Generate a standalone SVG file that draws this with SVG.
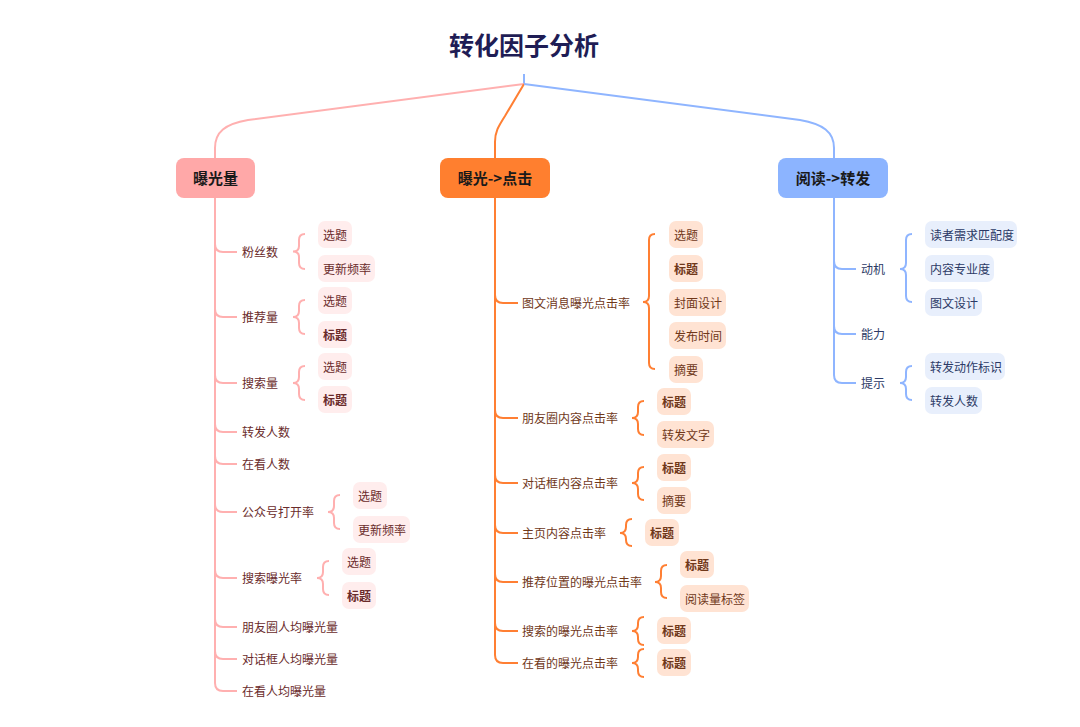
<svg xmlns="http://www.w3.org/2000/svg" width="1080" height="727" viewBox="0 0 1080 727">
<style>
text{font-family:"Noto Sans CJK SC","Noto Sans",sans-serif;dominant-baseline:central}
.title{font-size:25px;font-weight:bold;fill:#1f1d55;text-anchor:middle}
.main{font-size:15px;font-weight:bold;fill:#1a1a1a;text-anchor:middle}
.lbl{font-size:12px}
.p{fill:#6a2b2b}.o{fill:#70381a}.b{fill:#2c3a66}
.b1{font-weight:bold}
.pl{fill:none;stroke:#ffb0b0;stroke-width:2}
.ol{fill:none;stroke:#ff7f33;stroke-width:2}
.bl{fill:none;stroke:#8fb5ff;stroke-width:2}
.pf{fill:#ffeded}.of{fill:#ffe3d3}.bf{fill:#e8effc}
</style>
<rect width="1080" height="727" fill="#ffffff"/>
<g id="title"><text class="title" x="524" y="44">转化因子分析</text></g>
<g id="connectors">
<path class="bl" d="M524,74 V84"/>
<path class="pl" d="M524,84 L248,120 C225,124 215,132 215,148 V158"/>
<path class="ol" d="M524,84 L505,116 C498,127 495,132 495,142 V158"/>
<path class="bl" d="M524,84 L800,120 C823,124 834,132 834,148 V158"/>
<path class="pl" d="M215,198 V683"/>
<path class="pl" d="M215,244 Q215,252 223,252 H237 M215,309 Q215,317 223,317 H237 M215,375 Q215,383 223,383 H237 M215,424 Q215,432 223,432 H237 M215,456 Q215,464 223,464 H237 M215,504 Q215,512 223,512 H237 M215,570 Q215,578 223,578 H237 M215,619 Q215,627 223,627 H237 M215,651 Q215,659 223,659 H237 M215,683 Q215,691 223,691 H237"/>
<path class="pl" d="M305,234 Q299,234 299,240 V246 Q299,251.5 293,251.5 Q299,251.5 299,257 V263 Q299,269 305,269"/>
<path class="pl" d="M305,300 Q299,300 299,306 V311 Q299,317 293,317 Q299,317 299,323 V328 Q299,334 305,334"/>
<path class="pl" d="M305,366 Q299,366 299,372 V377 Q299,383 293,383 Q299,383 299,389 V394 Q299,400 305,400"/>
<path class="pl" d="M340,495 Q334,495 334,501 V506 Q334,512 328,512 Q334,512 334,518 V523 Q334,529 340,529"/>
<path class="pl" d="M329,561 Q323,561 323,567 V572 Q323,578 317,578 Q323,578 323,584 V589 Q323,595 329,595"/>
<path class="ol" d="M495,198 V655"/>
<path class="ol" d="M495,295 Q495,303 503,303 H518 M495,410 Q495,418 503,418 H518 M495,475 Q495,483 503,483 H518 M495,525 Q495,533 503,533 H518 M495,574 Q495,582 503,582 H518 M495,623 Q495,631 503,631 H518 M495,655 Q495,663 503,663 H518"/>
<path class="ol" d="M655,234 Q649,234 649,240 V296 Q649,302 643,302 Q649,302 649,308 V363 Q649,369 655,369"/>
<path class="ol" d="M644,401 Q638,401 638,407 V412 Q638,418 632,418 Q638,418 638,424 V429 Q638,435 644,435"/>
<path class="ol" d="M644,467 Q638,467 638,473 V477 Q638,483 632,483 Q638,483 638,489 V494 Q638,500 644,500"/>
<path class="ol" d="M632,519 Q626,519 626,525 V527 Q626,533 620,533 Q626,533 626,539 V540 Q626,546 632,546"/>
<path class="ol" d="M667,565 Q661,565 661,571 V576 Q661,582 655,582 Q661,582 661,588 V592 Q661,598 667,598"/>
<path class="ol" d="M644,617 Q638,617 638,623 V625 Q638,631 632,631 Q638,631 638,637 V639 Q638,645 644,645"/>
<path class="ol" d="M644,649 Q638,649 638,655 V657 Q638,663 632,663 Q638,663 638,669 V671 Q638,677 644,677"/>
<path class="bl" d="M834,198 V375"/>
<path class="bl" d="M834,261 Q834,269 842,269 H856 M834,326 Q834,334 842,334 H856 M834,375 Q834,383 842,383 H856"/>
<path class="bl" d="M912,234 Q906,234 906,240 V263 Q906,269 900,269 Q906,269 906,275 V296 Q906,302 912,302"/>
<path class="bl" d="M912,366 Q906,366 906,372 V377 Q906,383 900,383 Q906,383 906,389 V394 Q906,400 912,400"/>
</g>
<g id="node-exposure">
<rect x="176" y="158" width="79" height="40" rx="8" fill="#ffa8a8"/>
<text class="main" x="215.5" y="177.5">曝光量</text>
</g>
<g id="node-click">
<rect x="440" y="158" width="110" height="40" rx="8" fill="#ff7f2f"/>
<text class="main" x="495" y="177.5">曝光-&gt;点击</text>
</g>
<g id="node-forward">
<rect x="778" y="158" width="110" height="40" rx="8" fill="#8cb4ff"/>
<text class="main" x="833" y="177.5">阅读-&gt;转发</text>
</g>
<g id="pink-items">
<text class="lbl p" x="242" y="251.5">粉丝数</text>
<text class="lbl p" x="242" y="316.5">推荐量</text>
<text class="lbl p" x="242" y="382.5">搜索量</text>
<text class="lbl p" x="242" y="431.5">转发人数</text>
<text class="lbl p" x="242" y="463.5">在看人数</text>
<text class="lbl p" x="242" y="511.5">公众号打开率</text>
<text class="lbl p" x="242" y="577.5">搜索曝光率</text>
<text class="lbl p" x="242" y="626.5">朋友圈人均曝光量</text>
<text class="lbl p" x="242" y="658.5">对话框人均曝光量</text>
<text class="lbl p" x="242" y="690.5">在看人均曝光量</text>
</g>
<g id="pink-leaves">
<rect class="pf" x="318" y="221" width="34" height="27" rx="7"/><text class="lbl p" x="323" y="234">选题</text>
<rect class="pf" x="318" y="255" width="57" height="27" rx="7"/><text class="lbl p" x="323" y="268">更新频率</text>
<rect class="pf" x="318" y="287" width="34" height="27" rx="7"/><text class="lbl p" x="323" y="300">选题</text>
<rect class="pf" x="318" y="321" width="34" height="27" rx="7"/><text class="lbl p b1" x="323" y="334">标题</text>
<rect class="pf" x="318" y="353" width="34" height="27" rx="7"/><text class="lbl p" x="323" y="366">选题</text>
<rect class="pf" x="318" y="386" width="34" height="27" rx="7"/><text class="lbl p b1" x="323" y="399">标题</text>
<rect class="pf" x="353" y="482" width="34" height="27" rx="7"/><text class="lbl p" x="358" y="495">选题</text>
<rect class="pf" x="353" y="516" width="57" height="27" rx="7"/><text class="lbl p" x="358" y="529">更新频率</text>
<rect class="pf" x="342" y="548" width="34" height="27" rx="7"/><text class="lbl p" x="347" y="561">选题</text>
<rect class="pf" x="342" y="582" width="34" height="27" rx="7"/><text class="lbl p b1" x="347" y="595">标题</text>
</g>
<g id="orange-items">
<text class="lbl o" x="522" y="302.5">图文消息曝光点击率</text>
<text class="lbl o" x="522" y="417.5">朋友圈内容点击率</text>
<text class="lbl o" x="522" y="482.5">对话框内容点击率</text>
<text class="lbl o" x="522" y="532.5">主页内容点击率</text>
<text class="lbl o" x="522" y="581.5">推荐位置的曝光点击率</text>
<text class="lbl o" x="522" y="630.5">搜索的曝光点击率</text>
<text class="lbl o" x="522" y="662.5">在看的曝光点击率</text>
</g>
<g id="orange-leaves">
<rect class="of" x="669" y="221" width="34" height="27" rx="7"/><text class="lbl o" x="674" y="234">选题</text>
<rect class="of" x="669" y="255" width="34" height="27" rx="7"/><text class="lbl o b1" x="674" y="268">标题</text>
<rect class="of" x="669" y="289" width="57" height="27" rx="7"/><text class="lbl o" x="674" y="302">封面设计</text>
<rect class="of" x="669" y="322" width="57" height="27" rx="7"/><text class="lbl o" x="674" y="335">发布时间</text>
<rect class="of" x="669" y="356" width="34" height="27" rx="7"/><text class="lbl o" x="674" y="369">摘要</text>
<rect class="of" x="657" y="388" width="34" height="27" rx="7"/><text class="lbl o b1" x="662" y="401">标题</text>
<rect class="of" x="657" y="421" width="57" height="27" rx="7"/><text class="lbl o" x="662" y="434.5">转发文字</text>
<rect class="of" x="657" y="454" width="34" height="27" rx="7"/><text class="lbl o b1" x="662" y="467">标题</text>
<rect class="of" x="657" y="487" width="34" height="27" rx="7"/><text class="lbl o" x="662" y="500">摘要</text>
<rect class="of" x="645" y="519" width="34" height="27" rx="7"/><text class="lbl o b1" x="650" y="532">标题</text>
<rect class="of" x="680" y="551" width="34" height="27" rx="7"/><text class="lbl o b1" x="685" y="564.5">标题</text>
<rect class="of" x="680" y="585" width="69" height="27" rx="7"/><text class="lbl o" x="685" y="598">阅读量标签</text>
<rect class="of" x="657" y="617" width="34" height="27" rx="7"/><text class="lbl o b1" x="662" y="630">标题</text>
<rect class="of" x="657" y="649" width="34" height="27" rx="7"/><text class="lbl o b1" x="662" y="662">标题</text>
</g>
<g id="blue-items">
<text class="lbl b" x="861" y="268.5">动机</text>
<text class="lbl b" x="861" y="333.5">能力</text>
<text class="lbl b" x="861" y="382.5">提示</text>
</g>
<g id="blue-leaves">
<rect class="bf" x="925" y="221" width="92" height="27" rx="7"/><text class="lbl b" x="930" y="234">读者需求匹配度</text>
<rect class="bf" x="925" y="255" width="69" height="27" rx="7"/><text class="lbl b" x="930" y="268">内容专业度</text>
<rect class="bf" x="925" y="289" width="57" height="27" rx="7"/><text class="lbl b" x="930" y="302">图文设计</text>
<rect class="bf" x="925" y="353" width="80" height="27" rx="7"/><text class="lbl b" x="930" y="366">转发动作标识</text>
<rect class="bf" x="925" y="387" width="57" height="27" rx="7"/><text class="lbl b" x="930" y="400">转发人数</text>
</g>
</svg>
